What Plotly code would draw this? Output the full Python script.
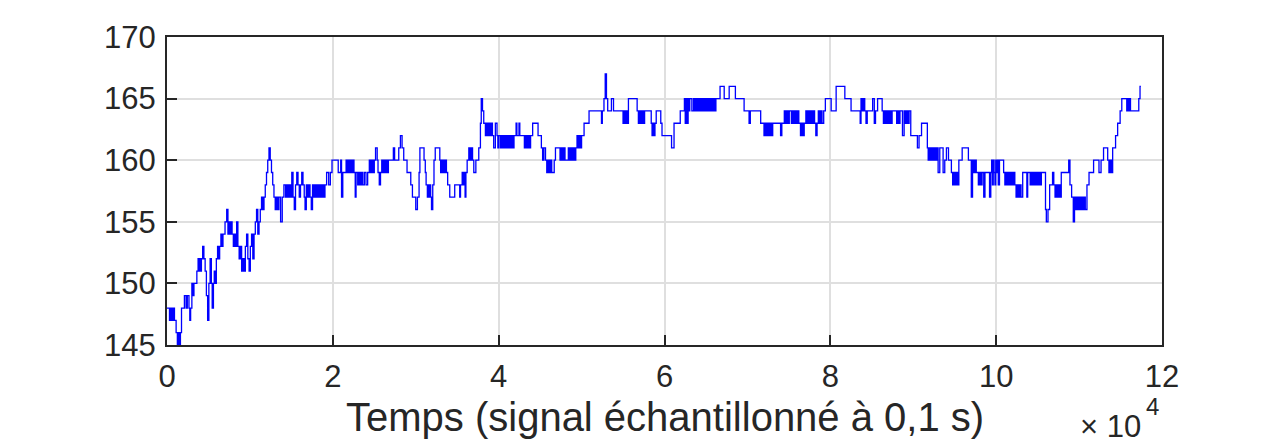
import plotly.graph_objects as go

# breakpoints of the stepped signal (sample index, value)
t_samples = [
    0, 300, 450, 600, 750, 900, 1100, 1250, 1400, 1500, 1620, 1750, 2100, 2300, 2450,
    2650, 2750, 2850, 3000, 3150, 3250, 3600, 3750, 3850, 3950, 4050, 4150, 4300, 4450,
    4600, 4750, 4900, 5050, 5200, 5350, 5450, 5600, 5700, 5850, 5950, 6100, 6250, 6350,
    6500, 6650, 6750, 7000, 7200, 7350, 7500, 7600, 7700, 7850, 8000, 8100, 8250, 8400,
    8550, 8700, 8850, 9000, 9150, 9300, 9450, 9600, 9750, 9900, 10050, 10200, 10350,
    10500, 10650, 10800, 10950, 11100, 11250, 11400, 11550, 11700, 11850, 12000, 12150,
    12300, 12450, 12600, 12750, 12900, 13050, 13200, 13350, 13500, 13700, 13900, 14100,
    14300, 14450, 14600, 14750, 14900, 15050, 15200, 15350, 15500, 15650, 15800, 15950,
    16100, 16250, 16400, 16550, 16650, 16800, 16950, 17100, 17250, 17400, 17550, 17700,
    17850, 18000, 18150, 18300, 18450, 18600, 18750, 18900, 19050, 19250, 19500, 19700,
    19900, 20650,
    20950, 21050, 21200, 21600, 21700, 21800, 21900, 22000, 22100, 22200, 22300, 22400,
    22550, 22700, 22800, 23000, 23150, 23300, 23450, 23600, 23800, 24000, 24200, 24400,
    24550, 24700, 24850, 25000, 25150, 25350, 25450, 25600, 25750, 25900, 26000, 26100,
    26200, 26300, 26400, 26500, 26600, 26700, 27300, 27450, 27950, 28150, 28350, 28550,
    28800, 28950, 29400, 29600, 30000, 30200, 30400, 30500, 31000, 31150, 31250, 31400,
    31500, 31600, 31700, 31800, 31900, 32050, 32200, 32350, 32900, 33000, 33100, 33200,
    33300, 33400, 33550, 33700, 33850, 34100, 34700, 35300, 35400, 35600, 35750, 35850,
    35950, 36050, 36200, 36400, 36550, 36700, 36850, 37000, 37250, 37600, 37800, 37900,
    38050, 38200, 38400, 38500, 38650, 38800, 38950, 39100, 39250, 39400, 39600, 39800,
    39900, 40000,
    40200, 40350, 40500, 40650, 40800, 40950, 41100, 41250, 41400, 41550, 41700, 41850,
    42100, 42200, 42450, 42550, 43100, 43250, 43400, 43550, 43700, 43850, 44100, 44750,
    45150, 45300, 45450, 45650, 45800, 45950, 46100, 46250, 46400, 46700, 46850, 47400,
    47550, 47700, 47850, 48000, 48400, 48550, 48700, 48850, 49000, 49150, 49300, 49450,
    49600, 49750, 49900, 50000, 50300, 50900, 52400, 52500, 52700, 52850, 53000, 53150,
    53600, 53850, 55000, 55100, 55250, 55350, 55500, 55650, 56700, 56850, 57000, 57150,
    57300, 57450, 57600, 58400, 58500, 58600, 58700, 58850, 59000, 59550, 59700, 60850,
    61150, 61900, 62400, 62500, 62650, 62750, 62850, 62950, 63050, 63300,
    63500, 63650, 63800, 63950, 64100, 64250, 64400, 64550, 64700, 64850, 65000, 65150,
    65300, 65450, 65600, 65750, 65900, 66050, 66200, 66700, 67200, 67800, 68550, 69600,
    70200, 70350, 71600, 72000, 72150, 72300, 72450, 72600, 72750, 72900, 73050, 74000,
    74150, 74450, 74600, 74750, 74900, 75050, 75300, 75450, 75600, 75750, 75900, 76050,
    76200, 76400, 76550, 76700, 76850, 77050, 77200, 77350, 77500, 77650, 77800, 77950,
    78100, 78250, 78400, 78550, 78700, 78850, 79000, 79200, 79400, 80100, 80700, 81750,
    82500, 83600, 83700, 83850, 84000, 84150, 84300, 84450, 85100, 85300, 85450, 85700,
    86250, 86400, 86550, 86700, 86850, 87000, 87150, 87300, 87450, 88000, 88100, 88250,
    88400, 88700, 88900, 89050, 89200, 89350, 89500, 89700, 90500, 90700, 91000, 91700,
    91800, 91950, 92100, 92250, 92400, 92550, 92700, 92850, 93000, 93200, 93600, 93800,
    94000, 94250, 94600, 94750, 94900, 95050, 95200, 95350, 95500, 95900, 96650, 97000,
    97150, 97300, 97450, 97600, 97850, 98000, 98150, 98300, 98500, 98650, 99200, 99350,
    99450, 99550, 99650, 99750, 99850, 99950, 100050, 100150, 100250, 100400, 100900,
    101050, 101200, 101350, 101500, 101650, 101800, 101950, 102100, 102250, 102400,
    102550, 102700, 102850, 103000, 103200, 103700, 103800, 104100, 104250, 104400,
    104550, 104700, 104850, 105000, 105150, 105300, 105450, 105950, 106050, 106250,
    106450, 106800, 106950, 107100, 107250, 107400, 107550, 107700, 107850, 108750,
    108900, 109100, 109300, 109450, 109550, 109700, 109850, 110000, 110150, 110300,
    110450, 110600, 110750, 110950, 111200, 111750, 112400, 112650, 112950, 113450,
    113600, 113750, 113900, 114050, 114400, 114650, 114950, 115150, 115750, 115850,
    115950, 116050, 116200, 117200, 117350, 117450,
]

signal = [
    148, 147, 148, 147, 148, 147, 146, 145, 146, 145, 146, 148, 149, 148, 149,
    148, 147, 148, 150, 149, 150, 151, 152, 151, 152, 151, 152, 153, 152,
    151, 149, 147, 150, 152, 150, 148, 150, 151, 150, 152, 153, 152, 153,
    154, 153, 154, 155, 156, 154, 155, 154, 155, 154, 153, 154, 153, 155,
    153, 152, 153, 151, 152, 151, 153, 154, 152, 151, 153, 154, 152,
    154, 155, 156, 154, 155, 156, 157, 156, 157, 158, 159, 160,
    161, 160, 159, 158, 157, 156, 157, 156, 157, 155, 157, 158,
    157, 158, 157, 158, 157, 159, 157, 156, 158, 159, 158, 157,
    158, 159, 158, 157, 156, 158, 157, 158, 157, 156, 158, 157,
    158, 157, 158, 157, 158, 157, 158, 157, 158, 159, 158, 159,
    160, 159,
    160, 157, 159, 160, 159, 160, 159, 160, 159, 160, 159, 160,
    159, 157, 159, 158, 159, 158, 159, 158, 159, 158, 159, 160,
    159, 160, 159, 160, 161, 160, 159, 158, 159, 160, 159, 160,
    159, 160, 159, 160, 159, 160, 161, 160, 161, 162, 161, 160,
    160, 159, 158, 157, 156, 157, 159, 161, 160, 159, 158, 157,
    158, 157, 158, 157, 156, 158, 160, 161, 160, 159, 160, 159,
    160, 159, 160, 159, 158, 157, 158, 157, 158, 159, 158, 159,
    157, 159, 160, 161, 160, 161, 160, 159, 160, 161, 163, 165,
    164, 163, 162, 163, 162, 163, 162, 163, 162, 161, 163, 162,
    161, 162,
    161, 162, 161, 162, 161, 162, 161, 162, 161, 162, 161, 162,
    163, 162, 163, 162, 161, 162, 161, 162, 161, 162, 163, 162,
    161, 160, 161, 160, 159, 160, 159, 160, 159, 160, 161, 160,
    161, 160, 161, 160, 161, 160, 161, 160, 161, 160, 161, 162,
    161, 162, 161, 162, 163, 164, 163, 164, 165, 167, 165, 164,
    165, 164, 163, 164, 163, 164, 163, 165, 164, 163, 164, 163,
    164, 163, 164, 163, 162, 163, 162, 163, 164, 163, 162, 161,
    163, 164, 165, 163, 165, 163, 165, 164, 165, 164,
    165, 164, 165, 164, 165, 164, 165, 164, 165, 164, 165, 164,
    165, 164, 165, 164, 165, 164, 165, 166, 165, 166, 165, 164,
    163, 164, 163, 162, 163, 162, 163, 162, 163, 162, 163, 162,
    163, 164, 163, 164, 163, 164, 163, 164, 163, 164, 163, 164,
    163, 162, 163, 162, 163, 164, 163, 164, 163, 164, 163, 164,
    163, 162, 163, 164, 163, 164, 163, 164, 165, 164, 166, 165,
    164, 163, 165, 164, 165, 164, 163, 164, 165, 163, 164, 165,
    164, 163, 164, 163, 164, 163, 164, 163, 164, 163, 164, 163,
    164, 162, 164, 163, 164, 163, 164, 162, 161, 162, 163, 161,
    160, 161, 160, 161, 160, 161, 160, 161, 159, 161, 159, 160,
    161, 160, 159, 158, 159, 158, 159, 158, 160, 161, 160, 157,
    160, 159, 160, 159, 158, 159, 158, 159, 157, 159, 157, 159,
    160, 158, 160, 159, 158, 160, 159, 160, 158, 160, 159,
    158, 159, 158, 159, 158, 159, 158, 159, 158, 157,
    158, 157, 158, 157, 159, 157, 159, 158, 159, 158,
    159, 158, 159, 158, 159, 158, 159, 156, 155, 156,
    158, 159, 158, 157, 158, 157, 158, 157, 159, 160,
    158, 157, 155, 157, 156, 157, 156, 157, 156, 157,
    156, 157, 156, 158, 159, 160, 159, 160, 161, 160,
    159, 160, 159, 161, 162, 163, 164, 165, 164, 165,
    164, 165, 164, 165, 166, 166,
]

x_ticks = [0, 20000, 40000, 60000, 80000, 100000, 120000]
x_tick_text = ["0", "2", "4", "6", "8", "10", "12"]
y_ticks = [145, 150, 155, 160, 165, 170]

FONT = "Arial, Liberation Sans, sans-serif"
AXIS_COLOR = "#262626"

fig = go.Figure()
fig.add_trace(go.Scatter(
    x=t_samples, y=signal, mode="lines", line_shape="hv",
    line=dict(color="#0000ff", width=1.3), showlegend=False,
))

axis_style = dict(
    showline=True, mirror=True, linecolor=AXIS_COLOR, linewidth=2,
    ticks="inside", ticklen=10, tickwidth=2, tickcolor=AXIS_COLOR,
    showgrid=True, gridcolor="#dfdfdf", gridwidth=1.5, zeroline=False,
    tickfont=dict(family=FONT, size=31, color=AXIS_COLOR),
)

fig.update_xaxes(range=[0, 120000], tickvals=x_ticks, ticktext=x_tick_text,
                 ticklabelstandoff=3, **axis_style)
fig.update_yaxes(range=[145, 170], tickvals=y_ticks, ticklabelstandoff=3, **axis_style)

fig.add_annotation(
    text="Temps (signal échantillonné à 0,1 s)", xref="paper", yref="paper",
    x=0.5, y=-0.235, xanchor="center", yanchor="middle", showarrow=False,
    font=dict(family=FONT, size=40, color=AXIS_COLOR),
)
# exponent label, drawn as base + superscript
fig.add_annotation(
    text="× 10", xref="paper", yref="paper",
    x=0.981, y=-0.265, xanchor="right", yanchor="middle", showarrow=False,
    font=dict(family=FONT, size=31, color=AXIS_COLOR),
)
fig.add_annotation(
    text="4", xref="paper", yref="paper",
    x=0.999, y=-0.2, xanchor="right", yanchor="middle", showarrow=False,
    font=dict(family=FONT, size=24, color=AXIS_COLOR),
)

# page body has an 8px margin, so the figure is shrunk by that much
fig.update_layout(
    width=1276, height=437,
    margin=dict(l=159, r=122, t=26, b=100),
    plot_bgcolor="white", paper_bgcolor="white",
)

fig.write_html("out.html")
